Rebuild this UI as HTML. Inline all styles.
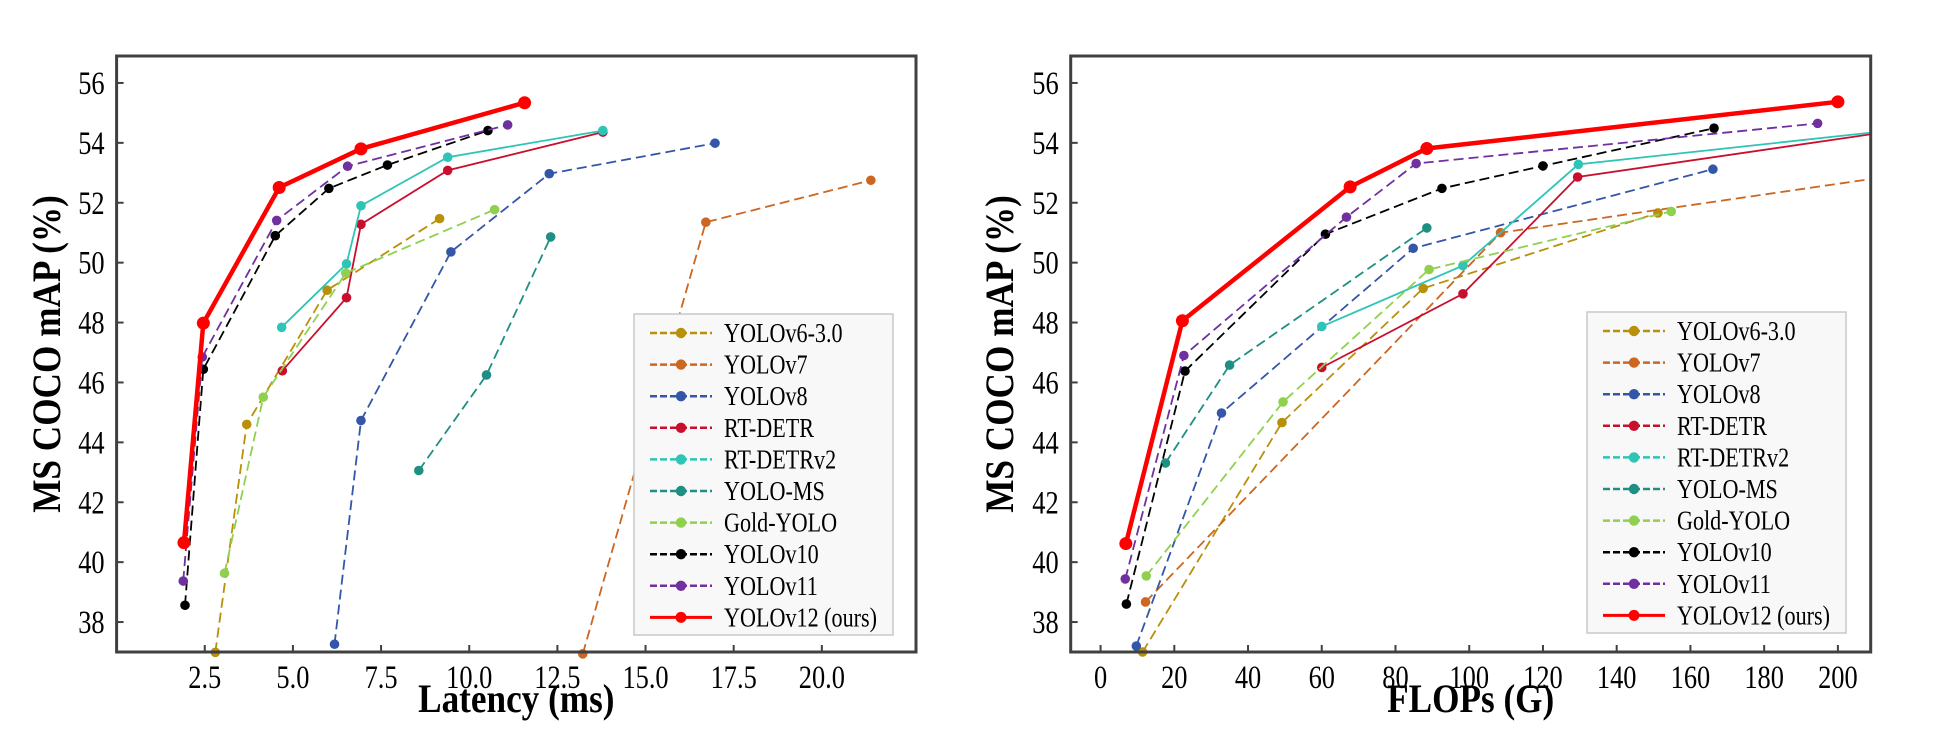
<!DOCTYPE html>
<html><head><meta charset="utf-8"><style>
html,body{margin:0;padding:0;background:#fff;}
svg{display:block;font-family:"Liberation Serif",serif;}
</style></head><body>
<svg id="chart" width="1933" height="738" viewBox="0 0 1933 738"></svg>
<script>
const seriesNames = ["YOLOv6-3.0","YOLOv7","YOLOv8","RT-DETR","RT-DETRv2","YOLO-MS","Gold-YOLO","YOLOv10","YOLOv11","YOLOv12 (ours)"];
const seriesColors = ["#b8900a","#cc6620","#3456a8","#c8102e","#2ec4b6","#1f8f84","#8fd14f","#000000","#7030a0","#ff0000"];
const latencyTicks = [2.5,5.0,7.5,10.0,12.5,15.0,17.5,20.0];
const flopsTicks = [0,20,40,60,80,100,120,140,160,180,200];
const yTicks = [38,40,42,44,46,48,50,52,54,56];
// Latency panel data [x, y]
const latV6 = [[2.8,36.99],[3.69,44.6],[5.97,49.08],[9.16,51.47]];
const latV7 = [[13.22,36.94],[16.71,51.35],[21.39,52.75]];
const latV8 = [[6.18,37.26],[6.93,44.73],[9.48,50.36],[12.27,52.97],[16.97,53.99]];
const latRTDETR = [[4.7,46.39],[6.52,48.83],[6.93,51.28],[9.39,53.08],[13.79,54.36]];
const latRTDETRv2 = [[4.68,47.84],[6.52,49.96],[6.93,51.9],[9.39,53.52],[13.79,54.41]];
const latMS = [[8.57,43.06],[10.49,46.25],[12.31,50.86]];
const latGold = [[3.06,39.63],[4.16,45.51],[6.5,49.65],[10.72,51.77]];
const latV10 = [[1.94,38.56],[2.46,46.44],[4.5,50.9],[6.02,52.48],[7.68,53.26],[10.53,54.41]];
const latV11 = [[1.89,39.37],[2.43,46.85],[4.54,51.41],[6.55,53.22],[11.09,54.6]];
const latV12 = [[1.91,40.65],[2.46,47.98],[4.61,52.51],[6.93,53.8],[11.57,55.34]];
// FLOPs panel data [x, y]
const flV6 = [[11.4,37.0],[49.2,44.66],[87.5,49.14],[151.2,51.66]];
const flV7 = [[12.2,38.67],[108.5,51.0],[215,52.9]];
const flV8 = [[9.7,37.2],[32.8,44.98],[84.8,50.48],[166.1,53.12]];
const flRTDETR = [[60.0,46.5],[98.3,48.96],[129.4,52.86],[213,54.36]];
const flRTDETRv2 = [[60.0,47.87],[98.3,49.9],[129.6,53.28],[214,54.41]];
const flMS = [[17.6,43.31],[35.0,46.58],[88.5,51.16]];
const flGold = [[12.4,39.54],[49.5,45.35],[89.1,49.77],[154.8,51.71]];
const flV10 = [[7.0,38.6],[22.9,46.38],[61.0,50.95],[92.6,52.48],[120,53.23],[166.4,54.49]];
const flV11 = [[6.7,39.44],[22.6,46.9],[66.7,51.52],[85.6,53.31],[194.5,54.65]];
const flV12 = [[6.86,40.62],[22.2,48.06],[67.7,52.53],[88.5,53.81],[200,55.37]];

const NS="http://www.w3.org/2000/svg";
const svg=document.getElementById('chart');
function mk(tag,attrs,parent){const e=document.createElementNS(NS,tag);for(const k in attrs)e.setAttribute(k,attrs[k]);(parent||svg).appendChild(e);return e;}
function txt(parent,x,y,s,size,anchor,sx,extra){
  const t=mk('text',Object.assign({x:0,y:0,'font-size':size,'text-anchor':anchor,fill:'#000',transform:'translate('+x+' '+y+') scale('+sx+' 1)'},extra||{}),parent);
  t.textContent=s;return t;
}

function panel(cfg){
  const g=mk('g',{});
  
  
  const L=cfg.left,R=cfg.right,T=56,B=652;
  const ymin=37,ymax=56.9;
  const sx=v=>L+(v-cfg.xmin)/(cfg.xmax-cfg.xmin)*(R-L);
  const sy=v=>B-(v-ymin)/(ymax-ymin)*(B-T);
  const cid='clip-'+cfg.name;
  const defs=mk('defs',{},g);const cp=mk('clipPath',{id:cid},defs);mk('rect',{x:L,y:T-8,width:R-L,height:B-T+16},cp);
  cfg.xticks.forEach(t=>{
    const x=sx(t);
    const tk=mk('line',{x1:x,x2:x,y1:B,y2:B-7,stroke:'#404040','stroke-width':2},g);
    
    
    const tl=txt(g,x,688,cfg.fmt(t),33,'middle',0.8);
    
    
  });
  yTicks.forEach(t=>{
    const y=sy(t);
    const tk=mk('line',{x1:L,x2:L+7,y1:y,y2:y,stroke:'#404040','stroke-width':2},g);
    
    
    const tl=txt(g,L-12,y+11,String(t),33,'end',0.8);
    
    
  });
  const plot=mk('g',{'clip-path':'url(#'+cid+')'},g);
  cfg.series.forEach((pts,i)=>{
    const c=seriesColors[i];const main=i===9;
    const sg=mk('g',{},plot);
    
    
    const d=pts.map((p,j)=>(j?'L':'M')+sx(p[0]).toFixed(1)+' '+sy(p[1]).toFixed(1)).join(' ');
    const solid=main||i===3||i===4;
    mk('path',{d:d,fill:'none',stroke:c,'stroke-width':main?4.5:1.8,'stroke-dasharray':solid?'none':'10,5'},sg);
    pts.forEach(p=>{
      const m=mk('circle',{cx:sx(p[0]),cy:sy(p[1]),r:main?6.5:4.8,fill:c},sg);
      
      
    });
  });
  const fr=mk('rect',{x:L,y:T,width:R-L,height:B-T,fill:'none',stroke:'#404040','stroke-width':3},g);
  
  
  const lg=mk('g',{},g);
  
  
  mk('rect',{x:cfg.lx,y:cfg.ly,width:259,height:321,fill:'#f8f8f8',stroke:'#c8c8c8','stroke-width':1.5},lg);
  seriesNames.forEach((n,i)=>{
    const y=cfg.ly+19+i*31.6;const x0=cfg.lx+16;
    const eg=mk('g',{},lg);
    
    
    mk('line',{x1:x0,x2:x0+62,y1:y,y2:y,stroke:seriesColors[i],'stroke-width':i===9?3:2.5,'stroke-dasharray':i===9?'none':'7,3'},eg);
    mk('circle',{cx:x0+31,cy:y,r:i===9?5.5:5.2,fill:seriesColors[i]},eg);
    txt(eg,x0+74,y+9,n,27,'start',0.82);
  });
  const xl=txt(g,(L+R)/2,712,cfg.xlabel,40,'middle',0.88,{'font-weight':'bold'});
  
  
  const yx=cfg.ylx;
  const yl=mk('text',{x:0,y:0,'font-size':40,'font-weight':'bold','text-anchor':'middle',transform:'translate('+yx+' 354) rotate(-90) scale(0.88 1)'},g);
  yl.textContent='MS COCO mAP (%)';
  
  
}
panel({name:'latency-panel',left:116.6,right:916,xmin:0,xmax:22.67,xticks:latencyTicks,fmt:t=>t.toFixed(1),
  series:[latV6,latV7,latV8,latRTDETR,latRTDETRv2,latMS,latGold,latV10,latV11,latV12],
  lx:634,ly:314,xlabel:'Latency (ms)',ylx:60});
panel({name:'flops-panel',left:1070.7,right:1870.7,xmin:-8.1,xmax:208.9,xticks:flopsTicks,fmt:t=>String(t),
  series:[flV6,flV7,flV8,flRTDETR,flRTDETRv2,flMS,flGold,flV10,flV11,flV12],
  lx:1587,ly:312,xlabel:'FLOPs (G)',ylx:1013});
</script>
</body></html>
